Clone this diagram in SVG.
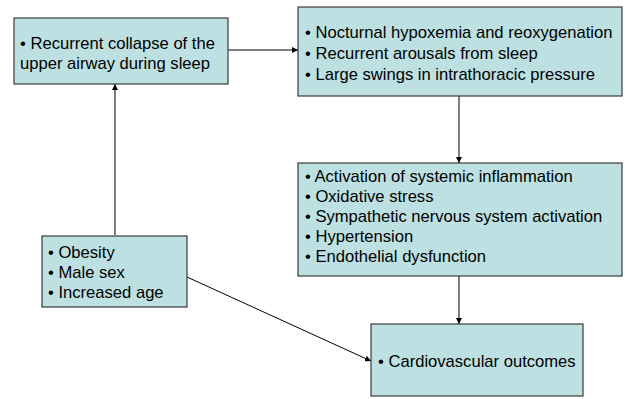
<svg xmlns="http://www.w3.org/2000/svg" width="625" height="399" viewBox="0 0 625 399">
<style>
.box{fill:#bde0e2;stroke:#3a3a3a;stroke-width:1.2}
.t{font-family:"Liberation Sans",Arial,sans-serif;font-size:16.6px;fill:#000}
.c{stroke:#000;stroke-width:1;fill:none;marker-end:url(#ah)}
</style>
<defs>
<marker id="ah" viewBox="0 0 10 10" refX="10" refY="5" markerWidth="6" markerHeight="6" markerUnits="userSpaceOnUse" orient="auto">
<path d="M0,0L10,5L0,10z" fill="#000"/>
</marker>
</defs>
<rect width="625" height="399" fill="#fff"/>
<g id="connectors">
<line class="c" x1="228" y1="50" x2="298" y2="50"/>
<line class="c" x1="459" y1="96" x2="459" y2="163"/>
<line class="c" x1="459" y1="276" x2="459" y2="324"/>
<line class="c" x1="115" y1="235" x2="115" y2="84"/>
<line class="c" x1="187" y1="277" x2="371" y2="361"/>
</g>
<g id="n1">
<rect class="box" x="14" y="18" width="214" height="66"/>
<text class="t" x="20" y="49">• Recurrent collapse of the</text>
<text class="t" x="20" y="69">upper airway during sleep</text>
</g>
<g id="n2">
<rect class="box" x="298" y="7" width="324" height="89"/>
<text class="t" x="305" y="38">• Nocturnal hypoxemia and reoxygenation</text>
<text class="t" x="305" y="59">• Recurrent arousals from sleep</text>
<text class="t" x="305" y="80">• Large swings in intrathoracic pressure</text>
</g>
<g id="n3">
<rect class="box" x="298" y="163" width="324" height="113"/>
<text class="t" x="305" y="182">• Activation of systemic inflammation</text>
<text class="t" x="305" y="202">• Oxidative stress</text>
<text class="t" x="305" y="222">• Sympathetic nervous system activation</text>
<text class="t" x="305" y="242">• Hypertension</text>
<text class="t" x="305" y="262">• Endothelial dysfunction</text>
</g>
<g id="n4">
<rect class="box" x="42" y="236" width="145" height="71"/>
<text class="t" x="48" y="258">• Obesity</text>
<text class="t" x="48" y="278">• Male sex</text>
<text class="t" x="48" y="298">• Increased age</text>
</g>
<g id="n5">
<rect class="box" x="371" y="324" width="212" height="72"/>
<text class="t" x="378" y="367">• Cardiovascular outcomes</text>
</g>
</svg>
